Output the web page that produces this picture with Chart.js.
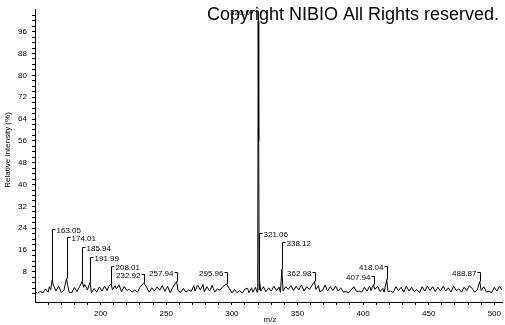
<!DOCTYPE html>
<html>
<head>
<meta charset="utf-8">
<script src="https://cdn.jsdelivr.net/npm/chart.js@4.4.1/dist/chart.umd.min.js"></script>
<style>
  html, body { margin: 0; padding: 0; background: #fff; }
  #wrap { width: 505px; height: 325px; }
</style>
</head>
<body>
<div id="wrap"><canvas id="spectrum" width="505" height="325"></canvas></div>
<script>
// profile spectrum (m/z, relative intensity %)
const mz = [
  150, 152, 154, 156, 158, 160, 161, 162, 163.05, 164, 166, 168, 170, 172, 174.01, 175, 176, 178,
  180, 182, 184, 185.94, 187, 188, 190, 191.99, 193, 195, 197, 199, 201, 203, 205, 206, 208.01, 209,
  211, 212, 214, 216, 218, 220, 222, 224, 226, 228, 230, 232.92, 235, 237, 239, 241, 243, 245, 247,
  249, 251, 253, 255, 257.94, 259, 261, 263, 265, 267, 269, 271, 272, 274, 276, 278, 279, 281, 283,
  285, 287, 289, 291, 293, 295.96, 298, 300, 302, 304, 306, 308, 310, 312, 313, 315, 316, 318,
  319.2, 319.7, 320.07, 320.35, 320.6, 320.8, 321.06, 322, 324, 326, 328, 330, 332, 334, 336, 337,
  338.12, 339, 341, 343, 345, 347, 349, 351, 353, 355, 357, 359, 361, 362.98, 364, 366, 367, 369,
  371, 373, 375, 377, 379, 381, 383, 385, 387, 389, 391, 393, 395, 397, 399, 401, 403, 405, 406,
  407.94, 409, 411, 413, 415, 416, 418.04, 419, 421, 423, 425, 427, 429, 431, 433, 435, 437, 439,
  441, 443, 445, 447, 449, 451, 453, 455, 457, 459, 461, 463, 465, 467, 469, 471, 473, 475, 477,
  479, 481, 483, 485, 487, 488.87, 490, 492, 494, 496, 498, 500, 502, 504, 506
];
const intensity = [
  0.5, 0.3, 0.8, 0.4, 1.8, 0.6, 2.6, 1.5, 5.0, 3.2, 1.0, 2.8, 0.5, 1.2, 5.6, 3.0, 0.6, 0.4,
  2.3, 0.8, 2.6, 4.6, 2.4, 3.4, 1.4, 4.3, 0.3, 2.0, 0.6, 2.5, 1.0, 2.8, 1.2, 2.6, 3.6, 1.5,
  3.0, 1.8, 3.3, 0.8, 2.7, 1.2, 1.6, 0.6, 1.4, 0.5, 2.4, 4.0, 2.4, 0.6, 2.2, 1.0, 2.5, 1.3, 3.0,
  0.9, 2.8, 0.4, 2.4, 4.5, 1.2, 0.5, 2.0, 0.6, 1.4, 0.9, 3.0, 1.0, 3.2, 1.4, 3.4, 0.8, 2.6, 1.0,
  3.0, 0.6, 1.8, 1.3, 2.6, 3.6, 2.0, 0.3, 1.6, 0.4, 1.2, 0.3, 1.8, 2.0, 0.4, 2.2, 0.6, 2.4,
  0.6, 4.0, 100, 75.5, 56, 1.5, 5.0, 1.0, 2.6, 0.8, 2.2, 1.0, 2.8, 1.2, 2.4, 0.5,
  9.0, 1.0, 2.6, 1.6, 3.0, 1.2, 2.8, 1.4, 3.2, 1.0, 2.6, 1.6, 3.0, 4.5, 1.6, 3.0, 0.8, 1.2,
  3.2, 1.0, 2.6, 1.2, 2.8, 1.0, 2.2, 0.6, 0.8, 0.4, 1.4, 2.6, 0.8, 1.0, 0.6, 2.4, 1.0, 2.8, 1.2,
  3.4, 1.6, 2.8, 0.8, 2.0, 0.6, 5.2, 0.8, 1.0, 0.5, 2.6, 1.2, 2.4, 0.6, 2.8, 1.0, 2.4, 0.8,
  1.6, 0.5, 2.6, 1.0, 2.8, 1.2, 2.6, 0.8, 2.4, 1.0, 2.8, 1.0, 2.2, 0.6, 2.8, 1.2, 1.8, 0.6, 2.4,
  1.2, 3.0, 2.0, 0.6, 1.4, 4.5, 1.2, 2.6, 0.6, 1.0, 0.4, 2.4, 1.0, 2.8, 1.2
];

// labelled peaks
const peakMz = [163.05, 174.01, 185.94, 191.99, 208.01, 232.92, 257.94, 295.96, 320.07, 321.06, 338.12, 362.98, 407.94, 418.04, 488.87];
const peakText = ['163.05', '174.01', '185.94', '191.99', '208.01', '232.92', '257.94', '295.96', '320.07', '321.06', '338.12', '362.98', '407.94', '418.04', '488.87'];
// where the label sits (in % units) and which side the text goes
const labelLevel = [23.8, 20.9, 17.0, 13.6, 10.1, 7.2, 7.9, 7.9, 103.6, 22.3, 19.1, 7.9, 6.5, 10.1, 7.9];
const labelSide = ['r', 'r', 'r', 'r', 'r', 'l', 'l', 'l', 'l', 'r', 'r', 'l', 'l', 'l', 'l'];

// axis ticks
const xTickLabels = [200, 250, 300, 350, 400, 450, 500];
const yTickLabels = [8, 16, 24, 32, 40, 48, 56, 64, 72, 80, 88, 96];

const FONT = '"Liberation Sans", Arial, sans-serif';

const labelsPlugin = {
    id: 'msLabels',
    afterDraw(chart) {
        const ctx = chart.ctx;
        const xs = chart.scales.x;
        const ys = chart.scales.y;
        ctx.save();
        ctx.strokeStyle = '#000';
        ctx.fillStyle = '#000';
        ctx.lineWidth = 1;

        // copyright notice over the plot
        ctx.font = '18px ' + FONT;
        ctx.textAlign = 'left';
        ctx.textBaseline = 'alphabetic';
        ctx.fillText('Copyright NIBIO All Rights reserved.', 207, 20);

        ctx.font = '8px ' + FONT;
        ctx.textBaseline = 'middle';
        peakMz.forEach((m, i) => {
            const k = mz.indexOf(m);
            const px = Math.round(xs.getPixelForValue(m)) + 0.5;
            const top = ys.getPixelForValue(intensity[k]);
            const ly = Math.round(ys.getPixelForValue(labelLevel[i])) + 0.5;
            ctx.beginPath();
            ctx.moveTo(px, top);
            ctx.lineTo(px, ly);
            if (labelSide[i] === 'r') {
                ctx.lineTo(px + 3, ly);
                ctx.stroke();
                ctx.textAlign = 'left';
                ctx.fillText(peakText[i], px + 4, ly + 1);
            } else {
                ctx.lineTo(px - 3, ly);
                ctx.stroke();
                ctx.textAlign = 'right';
                ctx.fillText(peakText[i], px - 4, ly + 1);
            }
        });

        // axis titles
        ctx.textAlign = 'center';
        ctx.fillText('m/z', 270, 320);
        ctx.translate(8, 150);
        ctx.rotate(-Math.PI / 2);
        ctx.fillText('Relative Intensity (%)', 0, 0);
        ctx.restore();
    }
};

new Chart(document.getElementById('spectrum'), {
    type: 'line',
    data: {
        datasets: [{
            data: mz.map((m, i) => ({ x: m, y: intensity[i] })),
            borderColor: '#000',
            borderWidth: 1,
            pointRadius: 0,
            tension: 0,
            fill: false
        }]
    },
    options: {
        responsive: false,
        animation: false,
        events: [],
        layout: { padding: { top: 3, right: 0, left: 0, bottom: 0 } },
        plugins: {
            legend: { display: false },
            tooltip: { enabled: false }
        },
        scales: {
            x: {
                type: 'linear',
                min: 150,
                max: 506,
                afterFit(s) { s.height = 23; },
                afterBuildTicks(s) {
                    const t = [];
                    for (let v = 160; v <= 500; v += 10) t.push({ value: v });
                    s.ticks = t;
                },
                ticks: {
                    autoSkip: false,
                    maxRotation: 0,
                    padding: 4,
                    color: '#000',
                    font: { size: 8, family: FONT },
                    callback: v => xTickLabels.includes(v) ? String(v) : ''
                },
                grid: { drawOnChartArea: false, drawTicks: true, tickLength: 3, color: '#000' },
                border: { display: true, color: '#000', width: 1 }
            },
            y: {
                min: -3,
                max: 104,
                afterFit(s) { s.width = 35; },
                afterBuildTicks(s) {
                    const t = [];
                    for (let v = 0; v <= 102; v += 2) t.push({ value: v });
                    s.ticks = t;
                },
                ticks: {
                    autoSkip: false,
                    padding: 5,
                    color: '#000',
                    font: { size: 8, family: FONT },
                    callback: v => yTickLabels.includes(v) ? String(v) : ''
                },
                grid: {
                    drawOnChartArea: false,
                    drawTicks: true,
                    tickLength: 3,
                    color: '#000'
                },
                border: { display: true, color: '#000', width: 1 }
            }
        }
    },
    plugins: [labelsPlugin]
});
</script>
</body>
</html>
